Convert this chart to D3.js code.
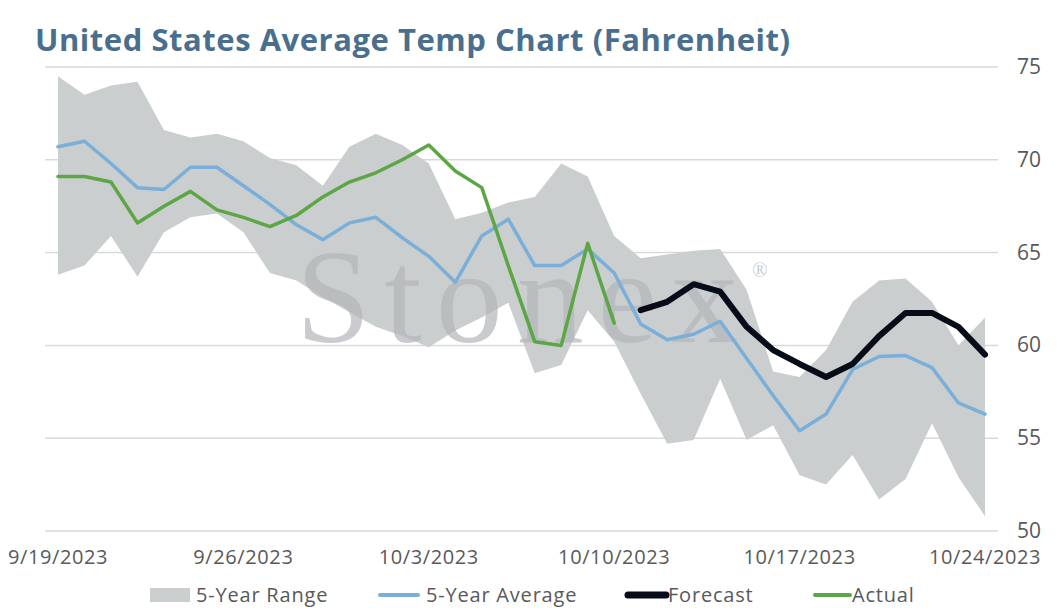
<!DOCTYPE html>
<html>
<head>
<meta charset="utf-8">
<script src="https://cdn.jsdelivr.net/npm/d3@7"></script>
<style>
body { margin: 0; background: #fff; }
</style>
</head>
<body>
<script>
var dates = ["2023-09-19", "2023-09-20", "2023-09-21", "2023-09-22", "2023-09-23", "2023-09-24",
    "2023-09-25", "2023-09-26", "2023-09-27", "2023-09-28", "2023-09-29", "2023-09-30",
    "2023-10-01", "2023-10-02", "2023-10-03", "2023-10-04", "2023-10-05", "2023-10-06",
    "2023-10-07", "2023-10-08", "2023-10-09", "2023-10-10", "2023-10-11", "2023-10-12",
    "2023-10-13", "2023-10-14", "2023-10-15", "2023-10-16", "2023-10-17", "2023-10-18",
    "2023-10-19", "2023-10-20", "2023-10-21", "2023-10-22", "2023-10-23", "2023-10-24"];

var rangeHigh = [74.5, 73.5, 74.0, 74.2, 71.6, 71.2, 71.4, 71.0, 70.1, 69.7, 68.6, 70.7,
    71.4, 70.8, 69.8, 66.8, 67.15, 67.7, 68.0, 69.8, 69.1, 65.9, 64.7, 64.9,
    65.1, 65.2, 63.0, 58.6, 58.3, 59.75, 62.35, 63.5, 63.6, 62.35, 60.0, 61.5];

var rangeLow = [63.8, 64.3, 65.9, 63.7, 66.1, 66.9, 67.1, 66.1, 63.9, 63.5, 62.6, 61.8,
    61.0, 60.5, 59.9, 60.8, 61.5, 62.3, 58.5, 58.95, 61.9, 60.2, 57.4, 54.7,
    54.9, 58.2, 54.9, 55.7, 53.0, 52.5, 54.1, 51.7, 52.8, 55.8, 52.9, 50.8];

var avg5 = [70.7, 71.0, 69.8, 68.5, 68.4, 69.6, 69.6, 68.6, 67.6, 66.5, 65.7, 66.6,
    66.9, 65.8, 64.8, 63.4, 65.9, 66.8, 64.3, 64.3, 65.2, 63.9, 61.15, 60.3,
    60.6, 61.3, 59.3, 57.3, 55.4, 56.3, 58.7, 59.4, 59.45, 58.8, 56.9, 56.3];

var actual = [69.1, 69.1, 68.8, 66.6, 67.5, 68.3, 67.3, 66.9, 66.4, 67.0, 68.0, 68.8,
    69.3, 70.0, 70.8, 69.4, 68.5, 64.3, 60.2, 60.0, 65.5, 61.2, null, null,
    null, null, null, null, null, null, null, null, null, null, null, null];

var forecast = [null, null, null, null, null, null, null, null, null, null, null, null,
    null, null, null, null, null, null, null, null, null, null, 61.9, 62.35,
    63.3, 62.9, 61.0, 59.75, 59.0, 58.3, 59.0, 60.5, 61.75, 61.75, 61.0, 59.5];

var yTicks = [50, 55, 60, 65, 70, 75];
var xTickDates = ["2023-09-19", "2023-09-26", "2023-10-03", "2023-10-10", "2023-10-17", "2023-10-24"];

var width = 1058;
var height = 613;
var sans = "'Open Sans', Lato, sans-serif";

var svg = d3.select("body")
    .append("svg")
    .attr("width", width)
    .attr("height", height)
    .style("font-family", sans);

var parse = d3.timeParse("%Y-%m-%d");
var days = dates.map(parse);

var x = d3.scaleTime()
    .domain([days[0], days[days.length - 1]])
    .range([58, 985]);

var y = d3.scaleLinear()
    .domain([50, 75])
    .range([531, 67]);

// title
svg.append("text")
    .attr("x", 35)
    .attr("y", 51)
    .attr("font-size", 31)
    .attr("font-weight", 700)
    .attr("fill", "#4a6f8e")
    .attr("textLength", 755)
    .attr("lengthAdjust", "spacing")
    .text("United States Average Temp Chart (Fahrenheit)");

// gridlines + right side labels
svg.append("g")
    .selectAll("line")
    .data(yTicks)
    .enter()
    .append("line")
    .attr("x1", 45)
    .attr("x2", 998)
    .attr("y1", function (d) { return y(d); })
    .attr("y2", function (d) { return y(d); })
    .attr("stroke", "#d9d9d9")
    .attr("stroke-width", 1.5);

svg.append("g")
    .selectAll("text")
    .data(yTicks)
    .enter()
    .append("text")
    .attr("x", 1017)
    .attr("y", function (d) { return y(d) + 7; })
    .attr("font-size", 21)
    .attr("fill", "#595959")
    .text(function (d) { return d; });

svg.append("g")
    .selectAll("text")
    .data(xTickDates)
    .enter()
    .append("text")
    .attr("x", function (d) { return x(parse(d)); })
    .attr("y", 564)
    .attr("text-anchor", "middle")
    .attr("font-size", 20)
    .attr("letter-spacing", 0.6)
    .attr("fill", "#595959")
    .text(function (d) { return d3.timeFormat("%-m/%-d/%Y")(parse(d)); });

// 5 year range band
var area = d3.area()
    .x(function (d, i) { return x(days[i]); })
    .y0(function (d, i) { return y(rangeLow[i]); })
    .y1(function (d, i) { return y(rangeHigh[i]); });

svg.append("path")
    .datum(rangeHigh)
    .attr("d", area)
    .attr("fill", "#cbcecf");

// watermark, the ® rides along as a tspan
var wm = svg.append("text")
    .attr("x", 296)
    .attr("y", 342)
    .attr("fill", "#b4b6bb")
    .attr("opacity", 0.7)
    .attr("font-size", 134)
    .style("font-family", "'Liberation Serif', 'DejaVu Serif', serif");
wm.append("tspan")
    .attr("letter-spacing", 14)
    .text("Stonex");
wm.append("tspan")
    .attr("font-size", 20)
    .attr("dy", -65)
    .text("\u00ae");

var line = d3.line()
    .defined(function (d) { return d != null; })
    .x(function (d, i) { return x(days[i]); })
    .y(function (d) { return y(d); });

svg.append("path")
    .datum(avg5)
    .attr("d", line)
    .attr("fill", "none")
    .attr("stroke", "#79afd9")
    .attr("stroke-width", 3.5)
    .attr("stroke-linecap", "round")
    .attr("stroke-linejoin", "round");

svg.append("path")
    .datum(actual)
    .attr("d", line)
    .attr("fill", "none")
    .attr("stroke", "#5ca645")
    .attr("stroke-width", 3.5)
    .attr("stroke-linecap", "round")
    .attr("stroke-linejoin", "round");

svg.append("path")
    .datum(forecast)
    .attr("d", line)
    .attr("fill", "none")
    .attr("stroke", "#060d19")
    .attr("stroke-width", 6)
    .attr("stroke-linecap", "round")
    .attr("stroke-linejoin", "round");

// legend
var legend = svg.append("g")
    .attr("font-size", 20)
    .attr("letter-spacing", 0.8)
    .attr("fill", "#595959");

legend.append("rect")
    .attr("x", 150).attr("y", 588).attr("width", 40).attr("height", 14)
    .attr("fill", "#cbcecf");
legend.append("text").attr("x", 196).attr("y", 602).text("5-Year Range");

var legendLines = [
    { x1: 380, x2: 418, color: "#79afd9", w: 4, label: "5-Year Average", tx: 426 },
    { x1: 628, x2: 666, color: "#060d19", w: 7, label: "Forecast", tx: 668 },
    { x1: 815, x2: 850, color: "#5ca645", w: 4, label: "Actual", tx: 852 }
];

legendLines.forEach(function (l) {
    legend.append("line")
        .attr("x1", l.x1).attr("x2", l.x2)
        .attr("y1", 595).attr("y2", 595)
        .attr("stroke", l.color)
        .attr("stroke-width", l.w)
        .attr("stroke-linecap", "round");
    legend.append("text").attr("x", l.tx).attr("y", 602).text(l.label);
});
</script>
</body>
</html>
